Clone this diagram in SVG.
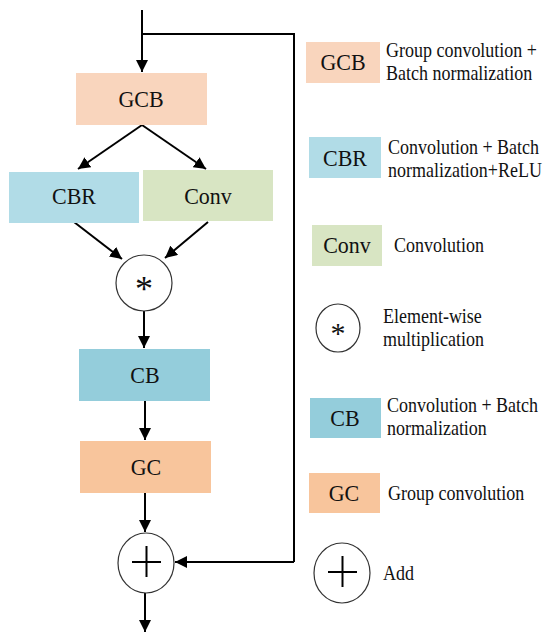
<svg xmlns="http://www.w3.org/2000/svg" width="550" height="641" viewBox="0 0 550 641" font-family="'Liberation Serif', 'Times New Roman', serif">
<defs>
<marker id="ah" viewBox="0 0 12 12" refX="12" refY="6" markerWidth="12" markerHeight="12" markerUnits="userSpaceOnUse" orient="auto">
<path d="M0,0 L12,6 L0,12 Z" fill="#000"/>
</marker>
</defs>
<style>
.lbl{font-size:22px;fill:#111;text-anchor:middle}
.desc{font-size:18px;fill:#111}
.ln{stroke:#000;stroke-width:2;fill:none}
.arr{stroke:#000;stroke-width:2;fill:none;marker-end:url(#ah)}
.circ{fill:#fff;stroke:#333;stroke-width:1.2}
.gcb{fill:#F9D5BD}.cbr{fill:#B1DCE7}.conv{fill:#D8E5C3}.cb{fill:#94CDDB}.gc{fill:#F8C59C}
</style>
<rect width="550" height="641" fill="#fff"/>
<g id="connectors">
<path class="arr" d="M142,10 L142,72"/>
<path class="ln" d="M142,34 L294,34 L294,562"/>
<path class="arr" d="M294,562 L175,562"/>
<path class="arr" d="M142,125 L78,169"/>
<path class="arr" d="M142,125 L206,169"/>
<path class="arr" d="M74,222 L122,259"/>
<path class="arr" d="M208,222 L165,258"/>
<path class="arr" d="M144,311 L144,348"/>
<path class="arr" d="M145,401 L145,440"/>
<path class="arr" d="M145,493 L145,532"/>
<path class="arr" d="M145,593 L145,632"/>
</g>
<g id="GCB"><rect class="gcb" x="76" y="73" width="131" height="52"/><text class="lbl" x="141" y="107" transform="matrix(1,0,0,1.08,0,-8.56)">GCB</text></g>
<g id="CBR"><rect class="cbr" x="9" y="172" width="130" height="51"/><text class="lbl" x="74" y="204" transform="matrix(1,0,0,1.08,0,-16.32)">CBR</text></g>
<g id="Conv"><rect class="conv" x="143" y="170" width="130" height="51"/><text class="lbl" x="208" y="204" transform="matrix(1,0,0,1.08,0,-16.32)">Conv</text></g>
<g id="mul"><ellipse class="circ" cx="144" cy="283" rx="28" ry="28"/><text class="lbl" x="144" y="301" style="font-size:36px">*</text></g>
<g id="CB"><rect class="cb" x="79" y="349" width="131" height="52"/><text class="lbl" x="145" y="383" transform="matrix(1,0,0,1.08,0,-30.64)">CB</text></g>
<g id="GC"><rect class="gc" x="80" y="441" width="131" height="52"/><text class="lbl" x="146" y="475" transform="matrix(1,0,0,1.08,0,-38)">GC</text></g>
<g id="add"><ellipse class="circ" cx="146" cy="563" rx="28" ry="30"/><path class="ln" d="M132,562 L161,562 M146.5,546 L146.5,577"/></g>
<g id="legend-GCB"><rect class="gcb" x="306" y="42" width="74" height="41"/><text class="lbl" x="343" y="70" transform="matrix(1,0,0,1.08,0,-5.6)">GCB</text><text class="desc" x="386" y="57" transform="matrix(1,0,0,1.15,0,-8.55)">Group convolution +</text><text class="desc" x="386" y="80" transform="matrix(1,0,0,1.15,0,-12)">Batch normalization</text></g>
<g id="legend-CBR"><rect class="cbr" x="309" y="137" width="72" height="41"/><text class="lbl" x="345" y="166" transform="matrix(1,0,0,1.08,0,-13.28)">CBR</text><text class="desc" x="388" y="154" transform="matrix(1,0,0,1.15,0,-23.1)">Convolution + Batch</text><text class="desc" x="388" y="177" transform="matrix(1,0,0,1.15,0,-26.55)">normalization+ReLU</text></g>
<g id="legend-Conv"><rect class="conv" x="312" y="225" width="70" height="41"/><text class="lbl" x="347" y="253" transform="matrix(1,0,0,1.08,0,-20.24)">Conv</text><text class="desc" x="394" y="252" transform="matrix(1,0,0,1.15,0,-37.8)">Convolution</text></g>
<g id="legend-mul"><ellipse class="circ" cx="338" cy="328" rx="22" ry="24"/><text class="lbl" x="338" y="343" style="font-size:30px">*</text><text class="desc" x="383" y="323" transform="matrix(1,0,0,1.15,0,-48.45)">Element-wise</text><text class="desc" x="383" y="346" transform="matrix(1,0,0,1.15,0,-51.9)">multiplication</text></g>
<g id="legend-CB"><rect class="cb" x="310" y="398" width="71" height="40"/><text class="lbl" x="345" y="426" transform="matrix(1,0,0,1.08,0,-34.08)">CB</text><text class="desc" x="387" y="412" transform="matrix(1,0,0,1.15,0,-61.8)">Convolution + Batch</text><text class="desc" x="387" y="435" transform="matrix(1,0,0,1.15,0,-65.25)">normalization</text></g>
<g id="legend-GC"><rect class="gc" x="309" y="473" width="71" height="40"/><text class="lbl" x="344" y="501" transform="matrix(1,0,0,1.08,0,-40.08)">GC</text><text class="desc" x="388" y="500" transform="matrix(1,0,0,1.15,0,-75)">Group convolution</text></g>
<g id="legend-add"><ellipse class="circ" cx="342" cy="573" rx="28" ry="30"/><path class="ln" d="M328,572 L357,572 M342.5,556 L342.5,587"/><text class="desc" x="383" y="580" transform="matrix(1,0,0,1.15,0,-87)">Add</text></g>
</svg>
